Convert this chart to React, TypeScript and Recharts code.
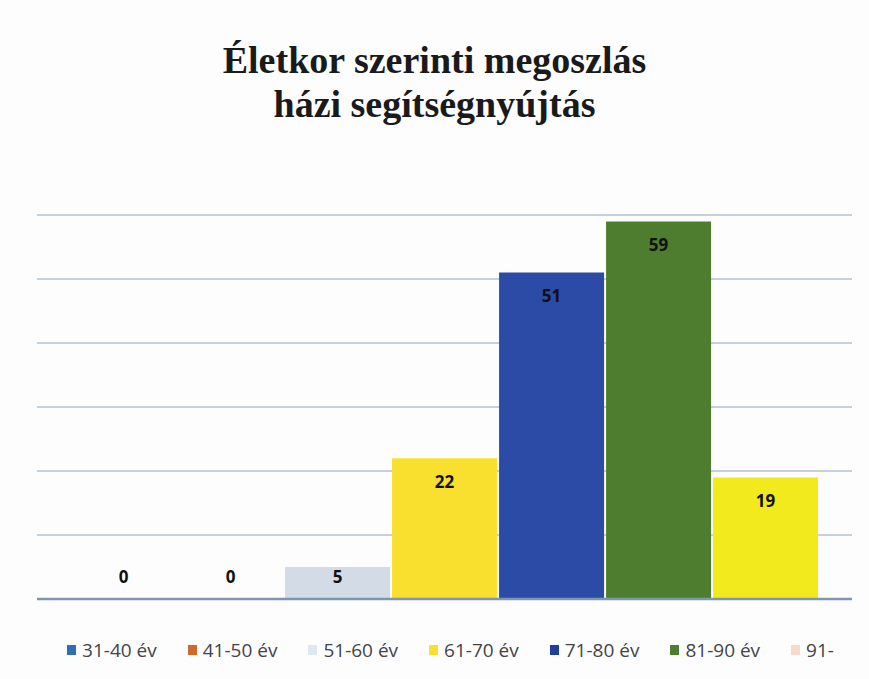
import React from 'react';
import { BarChart, Bar, Cell, XAxis, YAxis, CartesianGrid, ReferenceLine, LabelList } from 'recharts';

const CATEGORIES = ['31-40 év', '41-50 év', '51-60 év', '61-70 év', '71-80 év', '81-90 év', '91-'];
const VALUES = [0, 0, 5, 22, 51, 59, 19];
const BAR_COLORS = ['#2f6fb8', '#d0682a', '#d3dbe7', '#f9df2e', '#2c4ba6', '#4e7d30', '#f3ea1e'];
const LEGEND_COLORS = ['#2f6fb8', '#d0682a', '#dfe7f0', '#f9df2e', '#1f3f9a', '#4e7d30', '#f9d9cc'];
const Y_TICKS = [0, 10, 20, 30, 40, 50, 60];
const TITLE = ['Életkor szerinti megoszlás', 'házi segítségnyújtás'];

const data = CATEGORIES.map((name, i) => ({ name, value: VALUES[i] }));

// Excel-style inside-end label, pushed up when the bar is too short
const ValueLabel = (props: any) => {
  const { x, y, width, height, value } = props;
  const base = y + height;
  const ly = Math.min(y + 25, base - 21);
  return (
    <text x={x + width / 2} y={ly} textAnchor="middle" dominantBaseline="middle"
      fontFamily="'Open Sans', sans-serif" fontWeight={700} fontSize={17} fill="#111">
      {value}
    </text>
  );
};

export default function App() {
  return (
    <div style={{ position: 'absolute', left: 0, top: 0, width: 869, height: 679, background: '#fdfdfe' }}>
      <div style={{ position: 'absolute', top: 38, left: 0, width: 869, textAlign: 'center', fontFamily: "'Liberation Serif', serif", fontWeight: 700, fontSize: 38, lineHeight: '44px', color: '#1a1a1a' }}>
        {TITLE.map(t => <div key={t}>{t}</div>)}
      </div>
      <BarChart width={869} height={679} data={data} margin={{ top: 215, right: 17, bottom: 80, left: 37 }} barCategoryGap="1%">
        <CartesianGrid vertical={false} stroke="#b4c2d3" strokeWidth={1.5} />
        <XAxis dataKey="name" hide padding={{ left: 33, right: 33 }} />
        <YAxis hide domain={[0, 60]} ticks={Y_TICKS} />
        <Bar dataKey="value" isAnimationActive={false} minPointSize={1}>
          {data.map((d, i) => <Cell key={d.name} fill={BAR_COLORS[i]} />)}
          <LabelList dataKey="value" content={ValueLabel} />
        </Bar>
        <ReferenceLine y={0} stroke="#7f96b1" strokeWidth={2.5} />
      </BarChart>
      <div style={{ position: 'absolute', top: 637, left: 16, width: 869, display: 'flex', justifyContent: 'center', gap: 31, fontFamily: "'Open Sans', sans-serif", fontSize: 19, color: '#444' }}>
        {CATEGORIES.map((c, i) => (
          <span key={c} style={{ display: 'flex', alignItems: 'center' }}>
            <span style={{ width: 9, height: 10, background: LEGEND_COLORS[i], marginRight: 6, display: 'inline-block' }} />
            {c}
          </span>
        ))}
      </div>
    </div>
  );
}
